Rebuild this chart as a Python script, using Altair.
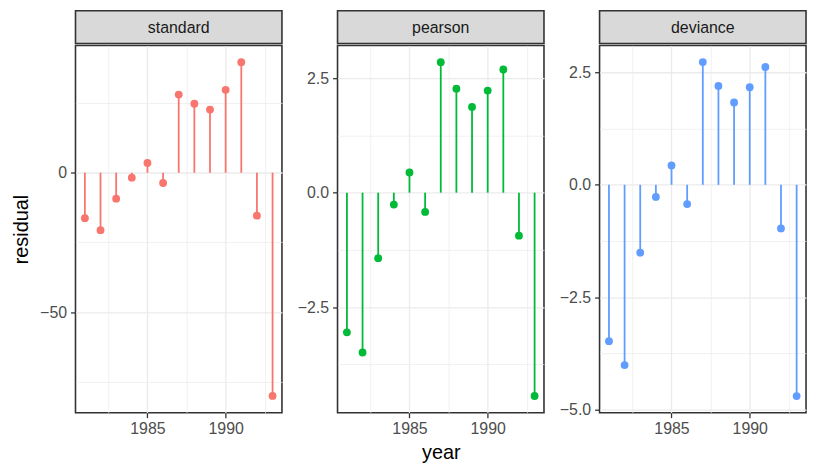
import altair as alt
import pandas as pd

years = list(range(1981, 1994))
standard = [-16.3, -20.6, -9.3, -1.8, 3.5, -3.7, 28.0, 24.7, 22.6, 29.7, 39.6, -15.4, -80.0]
pearson = [-3.05, -3.49, -1.43, -0.26, 0.44, -0.42, 2.85, 2.27, 1.87, 2.23, 2.69, -0.94, -4.44]
deviance = [-3.48, -4.01, -1.51, -0.27, 0.43, -0.43, 2.73, 2.20, 1.83, 2.17, 2.62, -0.97, -4.70]

panels = ["standard", "pearson", "deviance"]
series = [standard, pearson, deviance]
colors = ["#F8766D", "#00BA38", "#619CFF"]
y_domains = [[-86.0, 45.6], [-4.805, 3.215], [-5.07, 3.10]]
y_ticks = [[-75, -50, -25, 0, 25],
           [-3.75, -2.5, -1.25, 0, 1.25, 2.5],
           [-5, -3.75, -2.5, -1.25, 0, 1.25, 2.5]]
y_major = [50, 2.5, 2.5]
y_formats = ["d", ".1f", ".1f"]
x_ticks = [1982.5, 1985, 1987.5, 1990, 1992.5]
x_domain = [1980.4, 1993.6]

FONT = "Liberation Sans"
W, H, STRIP = 208, 370, 33
LBL = 16
TTL = 20


def major_test(step):
    return f"abs(datum.value / {step} - round(datum.value / {step})) < 1e-6"


def panel(i):
    df = pd.DataFrame({"year": years, "residual": series[i], "zero": [0] * len(years)})
    ytest = major_test(y_major[i])
    xtest = major_test(5)
    xaxis = alt.Axis(
        values=x_ticks, format="d",
        labelExpr=f"{xtest} ? datum.label : ''",
        tickOpacity={"condition": {"test": xtest, "value": 1}, "value": 0},
        gridWidth={"condition": {"test": xtest, "value": 1.3}, "value": 0.7},
        gridColor="#EBEBEB", domain=False, tickColor="#333333", tickSize=5, tickWidth=1.3,
        labelColor="#4D4D4D", labelFontSize=LBL, labelFont=FONT, labelPadding=3,
        title="year" if i == 1 else None, titleFont=FONT, titleFontSize=TTL,
        titleFontWeight="normal", titleColor="#000000", titlePadding=6,
    )
    yaxis = alt.Axis(
        values=y_ticks[i], format=y_formats[i],
        labelExpr=f"{ytest} ? datum.label : ''",
        tickOpacity={"condition": {"test": ytest, "value": 1}, "value": 0},
        gridWidth={"condition": {"test": ytest, "value": 1.3}, "value": 0.7},
        gridColor="#EBEBEB", domain=False, tickColor="#333333", tickSize=5, tickWidth=1.3,
        labelColor="#4D4D4D", labelFontSize=LBL, labelFont=FONT, labelPadding=4,
        title="residual" if i == 0 else None, titleFont=FONT, titleFontSize=TTL,
        titleFontWeight="normal", titleColor="#000000", titlePadding=8,
    )
    base = alt.Chart(df)
    rules = base.mark_rule(color=colors[i], strokeWidth=1.8).encode(
        x=alt.X("year:Q", scale=alt.Scale(domain=x_domain, nice=False, zero=False), axis=xaxis),
        y=alt.Y("zero:Q", scale=alt.Scale(domain=y_domains[i], nice=False, zero=False), axis=yaxis),
        y2="residual:Q",
    )
    pts = base.mark_circle(color=colors[i], size=62, opacity=1).encode(
        x="year:Q", y="residual:Q"
    )
    plot = alt.layer(rules, pts).properties(width=W, height=H)

    strip = alt.Chart(pd.DataFrame({"label": [panels[i]]})).mark_text(
        font=FONT, fontSize=LBL, color="#1A1A1A", baseline="middle"
    ).encode(
        text="label:N", x=alt.value(W / 2), y=alt.value(STRIP / 2 + 1)
    ).properties(
        width=W, height=STRIP,
        view=alt.ViewBackground(fill="#D9D9D9", stroke="#333333", strokeWidth=1.6),
    )
    return alt.vconcat(strip, plot, spacing=0)


chart = alt.hconcat(*[panel(i) for i in range(3)], spacing=13).properties(
    padding={"left": 3, "top": 0, "right": 2, "bottom": 2},
    background="white",
).configure_view(stroke="#333333", strokeWidth=1.6)

chart.save("out.html", embed_options={"renderer": "svg", "actions": False})
